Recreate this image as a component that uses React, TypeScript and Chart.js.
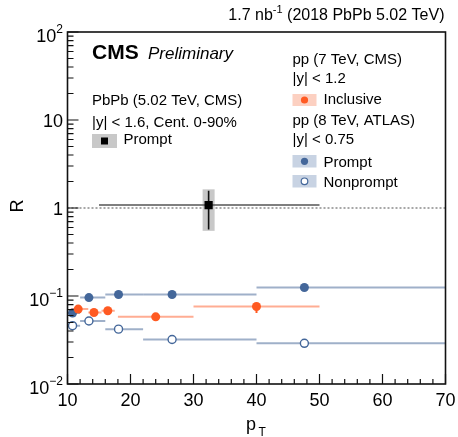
import { useEffect, useRef } from "react";
import { Chart, registerables } from "chart.js";

Chart.register(...registerables);

const W = 458;
const H = 437;

// PbPb 5.02 TeV (CMS), prompt ratio
const pbpbPt = [32.4];
const pbpbPtLo = [15];
const pbpbPtHi = [50];
const pbpbR = [1.08];
const pbpbStatLo = [0.51];
const pbpbStatHi = [0.49];
const pbpbSystLo = [0.53];
const pbpbSystHi = [0.55];

// pp 7 TeV (CMS), inclusive
const cmsPt = [11.7, 14.2, 16.4, 24, 40];
const cmsPtLo = [10.6, 13.3, 15.4, 18, 30];
const cmsPtHi = [13.3, 15.4, 17.5, 30, 50];
const cmsR = [0.071, 0.065, 0.068, 0.058, 0.076];
const cmsErrLo = [0.003, 0.003, 0.003, 0.003, 0.012];
const cmsErrHi = [0.003, 0.003, 0.003, 0.003, 0.007];

// pp 8 TeV (ATLAS), prompt and nonprompt
const atlasPt = [10.8, 13.4, 18.1, 26.6, 47.6];
const atlasPtLo = [10, 12, 16, 22, 40];
const atlasPtHi = [12, 16, 22, 40, 70];
const atlasPromptR = [0.064, 0.096, 0.104, 0.104, 0.125];
const atlasNonpromptR = [0.046, 0.052, 0.042, 0.032, 0.029];

// axis ticks
const xTicks = [10, 20, 30, 40, 50, 60, 70];
const yDecades = [-2, -1, 0, 1, 2];

const FONT = '"Liberation Sans", Arial, Helvetica, sans-serif';
const BLUE = "#44679a";
const BLUE_LINE = "#9fb0c9";
const BLUE_BOX = "#c8d3e3";
const ORANGE = "#ff5a22";
const ORANGE_LINE = "#ffad93";
const ORANGE_BOX = "#fcd0c1";
const GRAY_BOX = "#c8c8c8";

const pts = (xs: number[], ys: number[]) => xs.map((x, i) => ({ x, y: ys[i] }));

const decorations = {
  id: "decorations",
  beforeDatasetsDraw(chart: any) {
    const { ctx, chartArea: a, scales } = chart;
    const xs = scales.x;
    const ys = scales.y;
    const X = (v: number) => xs.getPixelForValue(v);
    const Y = (v: number) => ys.getPixelForValue(v);
    ctx.save();
    ctx.beginPath();
    ctx.rect(a.left, a.top, a.right - a.left, a.bottom - a.top);
    ctx.clip();

    // reference line at R = 1
    ctx.strokeStyle = "#8a8a8a";
    ctx.lineWidth = 1.5;
    ctx.setLineDash([2, 2]);
    ctx.beginPath();
    ctx.moveTo(a.left, Y(1));
    ctx.lineTo(a.right, Y(1));
    ctx.stroke();
    ctx.setLineDash([]);

    // PbPb: systematic box, pT bin and statistical bar
    pbpbPt.forEach((x, i) => {
      const r = pbpbR[i];
      ctx.fillStyle = GRAY_BOX;
      const yTop = Y(r + pbpbSystHi[i]);
      const yBot = Y(r - pbpbSystLo[i]);
      ctx.fillRect(X(x) - 6, yTop, 12, yBot - yTop);
      ctx.strokeStyle = "#555";
      ctx.lineWidth = 1.6;
      ctx.beginPath();
      ctx.moveTo(X(pbpbPtLo[i]), Y(r));
      ctx.lineTo(X(pbpbPtHi[i]), Y(r));
      ctx.stroke();
      ctx.strokeStyle = "#111";
      ctx.beginPath();
      ctx.moveTo(X(x), Y(r + pbpbStatHi[i]));
      ctx.lineTo(X(x), Y(r - pbpbStatLo[i]));
      ctx.stroke();
    });

    // ATLAS bins
    ctx.strokeStyle = BLUE_LINE;
    ctx.lineWidth = 2;
    atlasPt.forEach((_, i) => {
      [atlasPromptR[i], atlasNonpromptR[i]].forEach((r) => {
        ctx.beginPath();
        ctx.moveTo(X(atlasPtLo[i]), Y(r));
        ctx.lineTo(X(atlasPtHi[i]), Y(r));
        ctx.stroke();
      });
    });

    // CMS pp bins and uncertainties
    cmsPt.forEach((x, i) => {
      const r = cmsR[i];
      ctx.strokeStyle = ORANGE_LINE;
      ctx.lineWidth = 2;
      ctx.beginPath();
      ctx.moveTo(X(cmsPtLo[i]), Y(r));
      ctx.lineTo(X(cmsPtHi[i]), Y(r));
      ctx.stroke();
      ctx.strokeStyle = ORANGE;
      ctx.beginPath();
      ctx.moveTo(X(x), Y(r + cmsErrHi[i]));
      ctx.lineTo(X(x), Y(r - cmsErrLo[i]));
      ctx.stroke();
    });
    ctx.restore();
  },
  afterDraw(chart: any) {
    const { ctx, chartArea: a, scales } = chart;
    const xs = scales.x;
    const ys = scales.y;
    const X = (v: number) => xs.getPixelForValue(v);
    const Y = (v: number) => ys.getPixelForValue(v);
    ctx.save();

    // frame
    ctx.strokeStyle = "#111";
    ctx.lineWidth = 1.6;
    ctx.strokeRect(a.left, a.top, a.right - a.left, a.bottom - a.top);

    // x ticks
    ctx.lineWidth = 1.2;
    ctx.beginPath();
    for (let v = xTicks[0]; v <= xTicks[xTicks.length - 1]; v += 2) {
      const len = v % 10 === 0 ? 10 : 5;
      ctx.moveTo(X(v), a.bottom);
      ctx.lineTo(X(v), a.bottom - len);
    }
    // y ticks
    for (let k = 0; k < yDecades.length; k++) {
      const e = yDecades[k];
      const last = k === yDecades.length - 1;
      for (let m = 1; m <= (last ? 1 : 9); m++) {
        const v = m * Math.pow(10, e);
        const len = m === 1 ? 11 : 6;
        ctx.moveTo(a.left, Y(v));
        ctx.lineTo(a.left + len, Y(v));
      }
    }
    ctx.stroke();

    ctx.fillStyle = "#000";
    // x tick labels
    ctx.font = `18px ${FONT}`;
    ctx.textAlign = "center";
    ctx.textBaseline = "alphabetic";
    xTicks.forEach((v) => ctx.fillText(String(v), X(v), a.bottom + 22));

    // y tick labels
    const rightX = a.left - 4.5;
    yDecades.forEach((e) => {
      const ty = Y(Math.pow(10, e));
      ctx.textAlign = "right";
      if (e === 0 || e === 1) {
        ctx.font = `18px ${FONT}`;
        ctx.fillText(e === 0 ? "1" : "10", rightX, ty + 6.5);
      } else {
        const sup = e < 0 ? "\u2212" + String(-e) : String(e);
        ctx.font = `12px ${FONT}`;
        const sw = ctx.measureText(sup).width;
        ctx.fillText(sup, rightX, ty + 0.5);
        ctx.font = `18px ${FONT}`;
        ctx.fillText("10", rightX - sw, ty + 9.7);
      }
    });

    // axis titles
    ctx.textAlign = "left";
    ctx.font = `18px ${FONT}`;
    ctx.fillText("p", 246, 429.5);
    ctx.font = `12px ${FONT}`;
    ctx.fillText("T", 258.5, 435.5);

    ctx.save();
    ctx.translate(23, 206);
    ctx.rotate(-Math.PI / 2);
    ctx.font = `18px ${FONT}`;
    ctx.textAlign = "center";
    ctx.fillText("R", 0, 0);
    ctx.restore();

    // luminosity header
    ctx.textAlign = "left";
    const head1 = "1.7 nb";
    const headSup = "-1";
    const head2 = " (2018 PbPb 5.02 TeV)";
    ctx.font = `16px ${FONT}`;
    const w1 = ctx.measureText(head1).width;
    const w3 = ctx.measureText(head2).width;
    ctx.font = `11px ${FONT}`;
    const w2 = ctx.measureText(headSup).width;
    let hx = 444.5 - (w1 + w2 + w3);
    ctx.font = `16px ${FONT}`;
    ctx.fillText(head1, hx, 20);
    hx += w1;
    ctx.font = `11px ${FONT}`;
    ctx.fillText(headSup, hx, 13);
    hx += w2;
    ctx.font = `16px ${FONT}`;
    ctx.fillText(head2, hx, 20);

    // CMS label
    ctx.font = `bold 21px ${FONT}`;
    ctx.fillText("CMS", 92, 59);
    ctx.font = `italic 17px ${FONT}`;
    ctx.fillText("Preliminary", 148, 59);

    // PbPb legend
    ctx.font = `15px ${FONT}`;
    ctx.fillText("PbPb (5.02 TeV, CMS)", 92, 104.5);
    ctx.fillText("|y| < 1.6, Cent. 0-90%", 92, 126.5);
    ctx.fillStyle = GRAY_BOX;
    ctx.fillRect(92, 134, 25, 14);
    ctx.fillStyle = "#000";
    ctx.fillRect(101, 137.5, 7, 7);
    ctx.fillText("Prompt", 123.5, 143.5);

    // pp legends
    const lx = 292.5;
    ctx.fillText("pp (7 TeV, CMS)", lx, 63.5);
    ctx.fillText("|y| < 1.2", lx, 82.5);
    ctx.fillStyle = ORANGE_BOX;
    ctx.fillRect(lx, 94, 24, 12);
    ctx.fillStyle = ORANGE;
    ctx.beginPath();
    ctx.arc(lx + 12, 100, 3.6, 0, Math.PI * 2);
    ctx.fill();
    ctx.fillStyle = "#000";
    ctx.fillText("Inclusive", 323.5, 104);

    ctx.fillText("pp (8 TeV, ATLAS)", lx, 124.5);
    ctx.fillText("|y| < 0.75", lx, 144);
    ctx.fillStyle = BLUE_BOX;
    ctx.fillRect(lx, 155, 24, 12.5);
    ctx.fillRect(lx, 175, 24, 12.5);
    ctx.fillStyle = BLUE;
    ctx.beginPath();
    ctx.arc(lx + 12, 161.3, 3.6, 0, Math.PI * 2);
    ctx.fill();
    ctx.fillStyle = "#fff";
    ctx.strokeStyle = BLUE;
    ctx.lineWidth = 1.2;
    ctx.beginPath();
    ctx.arc(lx + 12, 181.3, 3.3, 0, Math.PI * 2);
    ctx.fill();
    ctx.stroke();
    ctx.fillStyle = "#000";
    ctx.fillText("Prompt", 323.5, 166.5);
    ctx.fillText("Nonprompt", 323.5, 186.5);

    ctx.restore();
  },
};

export default function App() {
  const ref = useRef<HTMLCanvasElement | null>(null);
  useEffect(() => {
    if (!ref.current) return;
    const chart = new Chart(ref.current, {
      type: "scatter",
      data: {
        datasets: [
          {
            label: "PbPb prompt",
            data: pts(pbpbPt, pbpbR),
            pointStyle: "rect",
            pointRadius: 5.8,
            backgroundColor: "#000",
            borderColor: "#000",
            borderWidth: 0,
          },
          {
            label: "Inclusive",
            data: pts(cmsPt, cmsR),
            pointRadius: 4.5,
            backgroundColor: ORANGE,
            borderColor: ORANGE,
            borderWidth: 0,
          },
          {
            label: "Prompt",
            data: pts(atlasPt, atlasPromptR),
            pointRadius: 4.5,
            backgroundColor: BLUE,
            borderColor: BLUE,
            borderWidth: 0,
          },
          {
            label: "Nonprompt",
            data: pts(atlasPt, atlasNonpromptR),
            pointRadius: 4,
            backgroundColor: "#fff",
            borderColor: BLUE,
            borderWidth: 1.4,
          },
        ],
      },
      options: {
        responsive: false,
        animation: false,
        events: [],
        layout: { padding: { left: 67.5, right: 12.5, top: 32, bottom: 53 } },
        scales: {
          x: { type: "linear", min: 10, max: 70, display: false },
          y: { type: "logarithmic", min: 0.01, max: 100, display: false },
        },
        plugins: { legend: { display: false }, tooltip: { enabled: false } },
      },
      plugins: [decorations],
    });
    return () => chart.destroy();
  }, []);
  return (
    <div style={{ position: "absolute", left: 0, top: 0, width: W, height: H, background: "#fff" }}>
      <canvas ref={ref} width={W} height={H} style={{ display: "block" }} />
    </div>
  );
}
